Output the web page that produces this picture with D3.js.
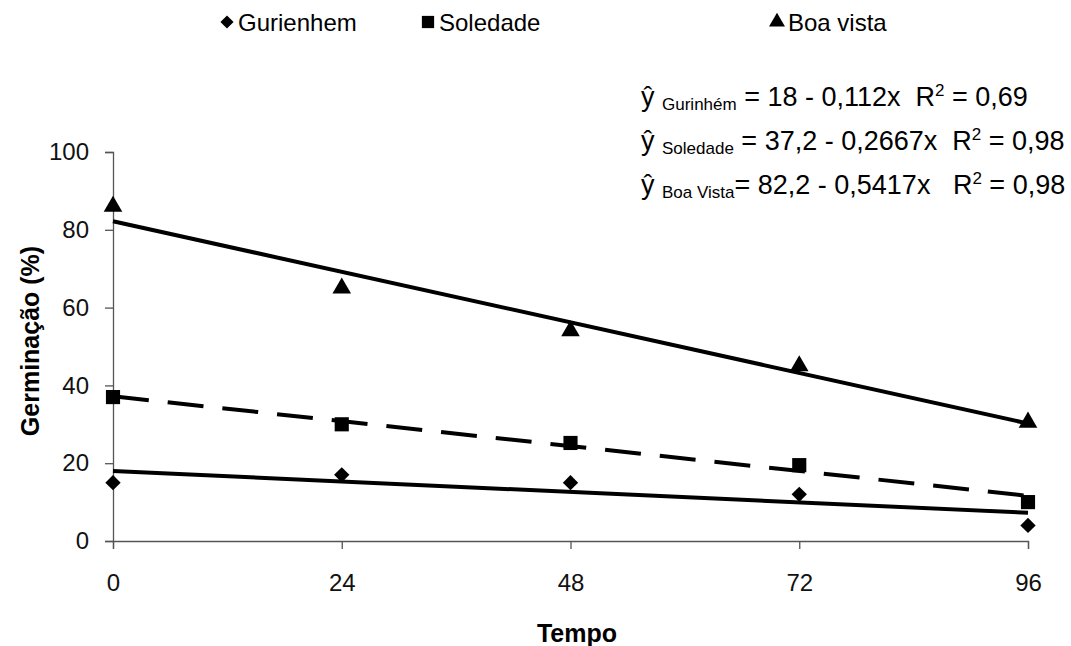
<!DOCTYPE html>
<html><head><meta charset="utf-8">
<script src="https://cdn.jsdelivr.net/npm/d3@7"></script>
<style>body{margin:0;background:#fff}svg{display:block}text{font-family:"Liberation Sans",Arial,sans-serif;white-space:pre}</style>
</head><body><svg id="c" width="1071" height="646"></svg>
<script>
const times = [0, 24, 48, 72, 96];
const seriesNames = ["Gurienhem", "Soledade", "Boa vista"];
const gurienhem = [15, 17, 15, 12, 4];
const soledade = [37, 30, 25.2, 19.5, 10];
const boaVista = [86, 65, 54, 45, 30.5];
const intercepts = [18, 37.2, 82.2];
const slopes = [-0.112, -0.2667, -0.5417];
const yTicks = [0, 20, 40, 60, 80, 100];
const eqSubs = ["Gurinhém", "Soledade", "Boa Vista"];
const eqRest = [" = 18 - 0,112x  R", " = 37,2 - 0,2667x  R", "= 82,2 - 0,5417x   R"];
const eqR2 = [" = 0,69", " = 0,98", " = 0,98"];

const svg = d3.select("#c");
const x = d3.scaleLinear().domain([0, 96]).range([113, 1028]);
const y = d3.scaleLinear().domain([0, 100]).range([541, 152]);

// axes
const yAx = svg.append("g").attr("transform", "translate(113,0)")
  .call(d3.axisLeft(y).tickValues(yTicks).tickSize(8).tickPadding(16));
const xAx = svg.append("g").attr("transform", "translate(0,541)")
  .call(d3.axisBottom(x).tickValues(times).tickSize(8).tickPadding(25));
[yAx, xAx].forEach(a => {
  a.selectAll("path,line").attr("stroke", "#555").attr("stroke-width", 1.3);
  a.selectAll("text").attr("font-size", 24).attr("fill", "#111").style("font-family", "'Liberation Sans',Arial,sans-serif");
});
xAx.selectAll("text").attr("dy", "0.71em");

// axis titles
svg.append("text").attr("x", 577).attr("y", 642).attr("text-anchor", "middle")
  .attr("font-size", 25).attr("font-weight", "bold").text("Tempo");
svg.append("text").attr("transform", "translate(39,341) rotate(-90)").attr("text-anchor", "middle")
  .attr("font-size", 25).attr("font-weight", "bold").text("Germinação (%)");

// trend lines
const dashes = [null, "36,19", null];
seriesNames.forEach((n, i) => {
  svg.append("line")
    .attr("x1", x(0)).attr("y1", y(intercepts[i] + slopes[i] * 0))
    .attr("x2", x(96)).attr("y2", y(intercepts[i] + slopes[i] * 96))
    .attr("stroke", "#000").attr("stroke-width", 4)
    .attr("stroke-dasharray", dashes[i]);
});

// markers
const symTypes = [d3.symbolDiamond2, d3.symbolSquare, d3.symbolTriangle];
const symSizes = [150, 200, 150];
const data = [gurienhem, soledade, boaVista];
data.forEach((vals, i) => {
  svg.append("g").selectAll("path").data(vals).join("path")
    .attr("transform", (d, j) => `translate(${x(times[j])},${y(d)})`)
    .attr("d", d3.symbol().type(symTypes[i]).size(symSizes[i]))
    .attr("fill", "#000");
});

// legend
const legX = [227, 428, 777];
const legSizes = [110, 150, 110];
seriesNames.forEach((n, i) => {
  svg.append("path").attr("transform", `translate(${legX[i]},22)`)
    .attr("d", d3.symbol().type(symTypes[i]).size(legSizes[i])).attr("fill", "#000");
  svg.append("text").attr("x", legX[i] + 11).attr("y", 31).attr("font-size", 24).text(n);
});

// equations
const eqY = [106, 150, 194];
eqSubs.forEach((s, i) => {
  const t = svg.append("text").attr("x", 641).attr("y", eqY[i]).attr("font-size", 27);
  t.append("tspan").text("ŷ ");
  t.append("tspan").attr("font-size", 17).attr("dy", 4).text(s);
  t.append("tspan").attr("dy", -4).text(eqRest[i]);
  t.append("tspan").attr("font-size", 17).attr("dy", -10).text("2");
  t.append("tspan").attr("dy", 10).text(eqR2[i]);
});
</script></body></html>
